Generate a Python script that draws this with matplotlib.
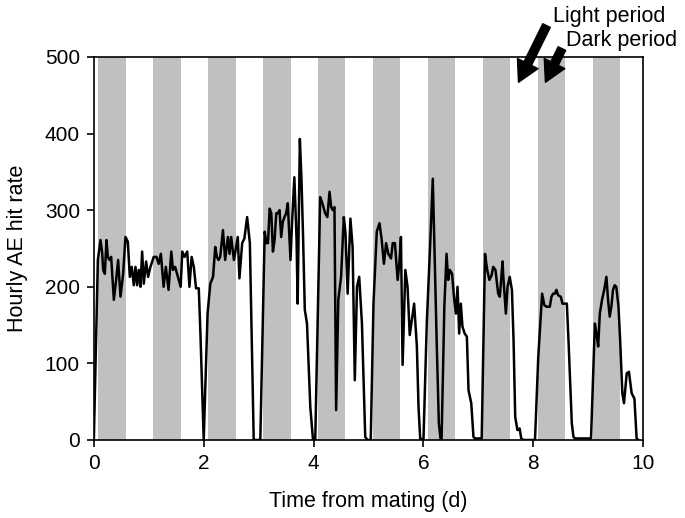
import matplotlib
matplotlib.use('Agg')
import matplotlib.pyplot as plt

plt.rcParams['font.family'] = ['Liberation Sans', 'DejaVu Sans']

# Time from mating (d) and hourly AE hit rate
days = [0.00, 0.073, 0.121, 0.152, 0.17, 0.20, 0.23, 0.255, 0.285, 0.315, 0.364, 0.406, 0.442, 0.485, 0.533,
        0.576, 0.618, 0.655, 0.69, 0.727, 0.758, 0.788, 0.818, 0.848, 0.879, 0.909, 0.952, 0.988, 1.03, 1.09,
        1.14, 1.18, 1.22, 1.27, 1.31, 1.36, 1.41, 1.44, 1.48, 1.53, 1.58, 1.61, 1.65, 1.70, 1.74, 1.78, 1.82,
        1.86, 1.91, 1.94, 2.00, 2.07, 2.12, 2.17, 2.21, 2.24, 2.27, 2.30, 2.35, 2.39, 2.44, 2.47, 2.50, 2.55,
        2.58, 2.62, 2.65, 2.70, 2.74, 2.79, 2.84, 2.91, 3.03,
        3.11, 3.14, 3.17, 3.20, 3.23, 3.26, 3.29, 3.32, 3.35, 3.38, 3.41, 3.44, 3.47, 3.50, 3.53, 3.58, 3.61,
        3.65, 3.69, 3.71, 3.75, 3.78, 3.81, 3.84, 3.88, 3.94, 3.99, 4.03, 4.12, 4.16, 4.21, 4.25, 4.29, 4.32,
        4.35, 4.38, 4.41, 4.45, 4.50, 4.55, 4.58, 4.62, 4.67, 4.71, 4.75, 4.79, 4.83, 4.88, 4.94, 4.98, 5.04,
        5.09, 5.15, 5.20, 5.24, 5.28, 5.32, 5.36, 5.41, 5.44, 5.48, 5.53, 5.56, 5.59, 5.62, 5.67, 5.71, 5.75,
        5.79, 5.83, 5.88, 5.91, 5.94, 6.00,
        6.06, 6.12, 6.17, 6.20, 6.24, 6.28, 6.31, 6.33, 6.38, 6.42, 6.45, 6.48, 6.52, 6.56, 6.59, 6.62, 6.65,
        6.68, 6.71, 6.75, 6.79, 6.82, 6.87, 6.91, 6.94, 7.06, 7.12, 7.16, 7.20, 7.24, 7.27, 7.31, 7.36, 7.39,
        7.44, 7.45, 7.50, 7.53, 7.57, 7.61, 7.64, 7.67, 7.71, 7.75, 7.78, 7.82, 8.03, 8.09, 8.16, 8.20, 8.24,
        8.30, 8.33, 8.36, 8.39, 8.42, 8.45, 8.50, 8.53, 8.56, 8.61, 8.64, 8.70, 8.73, 8.76, 8.94, 9.05, 9.09,
        9.12, 9.15, 9.18, 9.21, 9.25, 9.29, 9.33, 9.36, 9.39, 9.42, 9.45, 9.48, 9.51, 9.55, 9.58, 9.62, 9.65,
        9.70, 9.74, 9.79, 9.84, 9.88, 9.91]

hit_rate = [0, 235, 261, 244, 222, 217, 261, 239, 235, 239, 183, 209, 235, 187, 217,
            265, 259, 213, 226, 202, 226, 202, 222, 200, 246, 204, 233, 213, 226, 239,
            239, 230, 243, 200, 226, 196, 246, 222, 226, 213, 200, 246, 239, 246, 200, 239, 226,
            198, 198, 139, 0, 165, 204, 213, 252, 239, 235, 239, 274, 235, 265, 243, 265, 235,
            248, 265, 211, 257, 263, 291, 257, 0, 0,
            272, 257, 257, 302, 296, 246, 261, 296, 296, 300, 265, 285, 291, 296, 309, 235, 287,
            343, 261, 178, 393, 339, 261, 170, 152, 43, 0, 0, 317, 309, 296, 291, 324, 304,
            300, 304, 39, 183, 213, 291, 270, 191, 289, 252, 78, 200, 213, 152, 4, 0, 0,
            178, 272, 283, 261, 230, 257, 243, 237, 257, 257, 209, 230, 265, 98, 222, 200, 137,
            157, 178, 122, 43, 2, 0,
            152, 252, 341, 252, 130, 22, 2, 2, 174, 243, 209, 222, 217, 183, 165, 200, 139,
            178, 148, 139, 135, 65, 48, 4, 2, 2, 243, 222, 209, 215, 226, 222, 191, 187,
            233, 217, 165, 200, 213, 196, 130, 30, 13, 15, 2, 0, 0, 109, 191, 176, 174,
            174, 187, 191, 191, 196, 189, 187, 178, 178, 178, 130, 22, 4, 2, 2, 2, 87,
            152, 139, 122, 165, 183, 196, 213, 183, 161, 174, 196, 202, 200, 174, 130, 61, 48,
            87, 89, 61, 54, 2, 0]

# dark periods: one per day
dark_days = [0, 1, 2, 3, 4, 5, 6, 7, 8, 9]
dark_start = 0.08
dark_end = 0.58

fig = plt.figure(figsize=(6.85, 5.18), dpi=100)
ax = fig.add_axes([0.137, 0.1506, 0.802, 0.7394])

for d in dark_days:
    ax.axvspan(d + dark_start, d + dark_end, color='#c0c0c0', lw=0, zorder=0)

ax.plot(days, hit_rate, color='black', lw=1.8, zorder=2)

ax.set_xlim(0, 10)
ax.set_ylim(0, 500)
ax.set_xticks([0, 2, 4, 6, 8, 10])
ax.set_yticks([0, 100, 200, 300, 400, 500])
ax.tick_params(direction='out', length=5, width=1.2, labelsize=15, pad=5)
for s in ax.spines.values():
    s.set_linewidth(1.2)
ax.set_xlabel('Time from mating (d)', fontsize=15.5, labelpad=13)
ax.set_ylabel('Hourly AE hit rate', fontsize=15.5, labelpad=12)

arrow = dict(arrowstyle='simple,head_width=1.1,head_length=1.0,tail_width=0.4',
             color='black', mutation_scale=15, shrinkA=0, shrinkB=0)
ax.annotate('', xy=(7.73, 467), xytext=(8.24, 541), arrowprops=arrow, annotation_clip=False)
ax.annotate('', xy=(8.22, 467), xytext=(8.52, 511), arrowprops=arrow, annotation_clip=False)
ax.text(8.35, 553, 'Light period', fontsize=15.5, va='center', ha='left', clip_on=False)
ax.text(8.60, 521, 'Dark period', fontsize=15.5, va='center', ha='left', clip_on=False)

fig.savefig('out.png', dpi=100)
